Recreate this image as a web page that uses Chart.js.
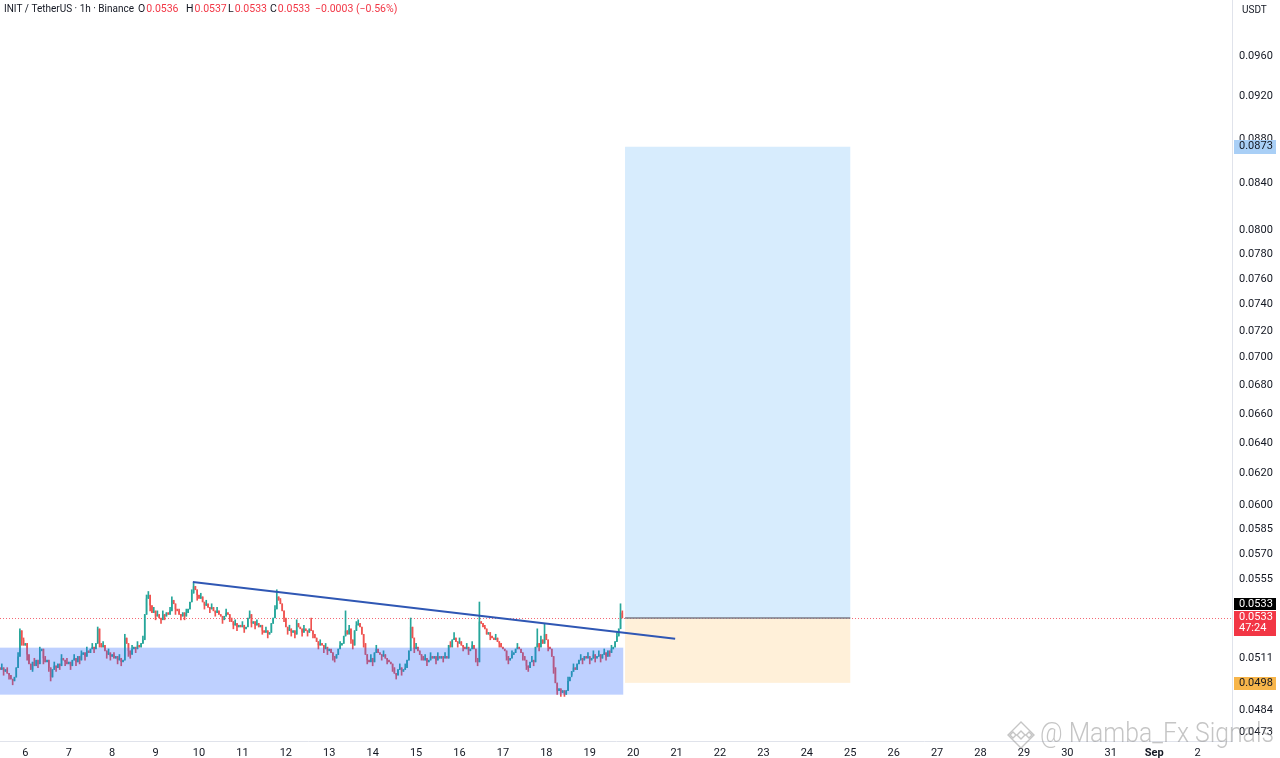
<!DOCTYPE html>
<html>
<head>
<meta charset="utf-8">
<script src="https://cdn.jsdelivr.net/npm/chart.js@4.4.1/dist/chart.umd.min.js"></script>
<style>
  html, body { margin: 0; padding: 0; background: #fff; }
  #wrap { width: 1280px; height: 758px; position: relative; }
</style>
</head>
<body>
<div id="wrap"><canvas id="chart"></canvas></div>
<script>
// INIT/USDT 1h candles, first candle = Aug 5 10:00
const hourCount = 682;
const firstOpen = 0.0506;
const closes = [
  0.0505, 0.0506, 0.0504, 0.0505, 0.0503, 0.0502, 0.0500, 0.0499, 0.0501, 0.0506,
  0.0512, 0.0526, 0.0521, 0.0518, 0.0519, 0.0513, 0.0508, 0.0505, 0.0509, 0.0507,
  0.0510, 0.0508, 0.0515, 0.0516, 0.0511, 0.0509, 0.0510, 0.0506, 0.0501, 0.0505,
  0.0507, 0.0506, 0.0508, 0.0507, 0.0511, 0.0510, 0.0509, 0.0508, 0.0509, 0.0507,
  0.0510, 0.0511, 0.0509, 0.0512, 0.0510, 0.0513, 0.0514, 0.0512, 0.0515, 0.0514,
  0.0516, 0.0517, 0.0516, 0.0519, 0.0527, 0.0519, 0.0517, 0.0518, 0.0515, 0.0513,
  0.0514, 0.0512, 0.0513, 0.0511, 0.0512, 0.0510, 0.0511, 0.0509, 0.0510, 0.0522,
  0.0519, 0.0515, 0.0513, 0.0516, 0.0517, 0.0516, 0.0518, 0.0517, 0.0519, 0.0521,
  0.0535, 0.0544, 0.0546, 0.0540, 0.0536, 0.0537, 0.0534, 0.0535, 0.0533, 0.0532,
  0.0535, 0.0534, 0.0536, 0.0535, 0.0537, 0.0543, 0.0541, 0.0538, 0.0537, 0.0535,
  0.0534, 0.0536, 0.0534, 0.0536, 0.0538, 0.0542, 0.0547, 0.0551, 0.0549, 0.0546,
  0.0544, 0.0545, 0.0542, 0.0540, 0.0541, 0.0539, 0.0538, 0.0539, 0.0537, 0.0536,
  0.0537, 0.0535, 0.0534, 0.0532, 0.0534, 0.0536, 0.0535, 0.0533, 0.0531, 0.0529,
  0.0530, 0.0528, 0.0529, 0.0528, 0.0529, 0.0527, 0.0528, 0.0533, 0.0535, 0.0530,
  0.0531, 0.0529, 0.0530, 0.0528, 0.0529, 0.0526, 0.0525, 0.0526, 0.0524, 0.0525,
  0.0530, 0.0533, 0.0538, 0.0545, 0.0543, 0.0541, 0.0537, 0.0533, 0.0528, 0.0526,
  0.0527, 0.0525, 0.0526, 0.0524, 0.0530, 0.0528, 0.0527, 0.0525, 0.0527, 0.0526,
  0.0525, 0.0527, 0.0526, 0.0524, 0.0522, 0.0520, 0.0518, 0.0519, 0.0518, 0.0516,
  0.0517, 0.0515, 0.0516, 0.0514, 0.0512, 0.0511, 0.0513, 0.0516, 0.0518, 0.0519,
  0.0523, 0.0526, 0.0524, 0.0527, 0.0521, 0.0518, 0.0526, 0.0529, 0.0530, 0.0528,
  0.0524, 0.0519, 0.0513, 0.0510, 0.0509, 0.0511, 0.0509, 0.0514, 0.0516, 0.0514,
  0.0513, 0.0512, 0.0513, 0.0511, 0.0510, 0.0509, 0.0508, 0.0506, 0.0503, 0.0502,
  0.0505, 0.0506, 0.0504, 0.0505, 0.0506, 0.0510, 0.0515, 0.0528, 0.0522, 0.0516,
  0.0517, 0.0515, 0.0513, 0.0512, 0.0510, 0.0511, 0.0509, 0.0510, 0.0512, 0.0511,
  0.0512, 0.0510, 0.0512, 0.0511, 0.0512, 0.0511, 0.0512, 0.0511, 0.0518, 0.0517,
  0.0521, 0.0522, 0.0520, 0.0519, 0.0520, 0.0518, 0.0517, 0.0516, 0.0517, 0.0515,
  0.0516, 0.0518, 0.0516, 0.0511, 0.0509, 0.0531, 0.0530, 0.0528, 0.0527, 0.0524,
  0.0525, 0.0523, 0.0522, 0.0521, 0.0522, 0.0520, 0.0519, 0.0517, 0.0516, 0.0515,
  0.0512, 0.0510, 0.0511, 0.0513, 0.0514, 0.0516, 0.0517, 0.0516, 0.0514, 0.0512,
  0.0510, 0.0507, 0.0506, 0.0509, 0.0510, 0.0509, 0.0517, 0.0519, 0.0517, 0.0521,
  0.0519, 0.0524, 0.0521, 0.0517, 0.0516, 0.0512, 0.0506, 0.0498, 0.0494, 0.0495,
  0.0493, 0.0494, 0.0492, 0.0494, 0.0499, 0.0501, 0.0504, 0.0506, 0.0505, 0.0508,
  0.0510, 0.0511, 0.0510, 0.0512, 0.0511, 0.0512, 0.0510, 0.0511, 0.0513, 0.0511,
  0.0512, 0.0513, 0.0511, 0.0513, 0.0514, 0.0512, 0.0515, 0.0514, 0.0516, 0.0517,
  0.0520, 0.0523, 0.0527, 0.0536, 0.0533
];
// wicks that stick out of the bodies (candle index -> price)
const highs = {
  1: 0.0508, 4: 0.0506, 10: 0.0514, 11: 0.0527, 13: 0.0522, 16: 0.0513, 19: 0.0511,
  22: 0.0517, 25: 0.0512, 30: 0.0509, 34: 0.0513, 37: 0.0511, 41: 0.0513, 45: 0.0515,
  48: 0.0517, 51: 0.0519, 54: 0.0528, 57: 0.0520, 60: 0.0516, 63: 0.0514, 66: 0.0513,
  69: 0.0524, 73: 0.0518, 76: 0.0520, 79: 0.0523, 81: 0.0546, 82: 0.0548, 85: 0.0539,
  87: 0.0537, 90: 0.0537, 94: 0.0539, 95: 0.0545, 99: 0.0538, 103: 0.0538, 106: 0.0549,
  107: 0.0553, 111: 0.0547, 114: 0.0543, 117: 0.0541, 120: 0.0539, 125: 0.0538,
  130: 0.0532, 134: 0.0531, 138: 0.0537, 142: 0.0532, 147: 0.0528, 152: 0.0540,
  153: 0.0549, 155: 0.0544, 160: 0.0529, 164: 0.0532, 168: 0.0529, 172: 0.0533,
  177: 0.0521, 180: 0.0519, 183: 0.0516, 188: 0.0520, 191: 0.0537, 193: 0.0529,
  197: 0.0531, 198: 0.0532, 205: 0.0513, 208: 0.0518, 212: 0.0515, 221: 0.0508,
  224: 0.0508, 227: 0.0533, 230: 0.0519, 235: 0.0513, 238: 0.0514, 242: 0.0514,
  246: 0.0514, 249: 0.0520, 251: 0.0525, 254: 0.0522, 258: 0.0519, 261: 0.0520,
  265: 0.0542, 268: 0.0529, 274: 0.0524, 283: 0.0515, 286: 0.0519, 294: 0.0512,
  297: 0.0527, 299: 0.0523, 301: 0.0530, 314: 0.0501, 317: 0.0508, 321: 0.0513,
  325: 0.0514, 328: 0.0515, 331: 0.0515, 334: 0.0516, 338: 0.0518, 341: 0.0525,
  343: 0.0541, 344: 0.0537
};
const lows = {
  2: 0.0502, 5: 0.0500, 7: 0.0497, 12: 0.0518, 15: 0.0510, 18: 0.0504, 21: 0.0506,
  24: 0.0508, 27: 0.0504, 28: 0.0499, 31: 0.0504, 33: 0.0505, 36: 0.0507, 39: 0.0505,
  42: 0.0507, 44: 0.0508, 47: 0.0510, 52: 0.0514, 55: 0.0517, 59: 0.0511, 61: 0.0510,
  65: 0.0508, 67: 0.0507, 71: 0.0512, 72: 0.0511, 75: 0.0514, 83: 0.0537, 86: 0.0532,
  89: 0.0530, 91: 0.0532, 97: 0.0535, 100: 0.0532, 102: 0.0532, 109: 0.0543,
  113: 0.0538, 116: 0.0536, 119: 0.0534, 123: 0.0530, 127: 0.0531, 129: 0.0527,
  131: 0.0526, 135: 0.0525, 139: 0.0528, 141: 0.0527, 145: 0.0524, 148: 0.0522,
  157: 0.0531, 159: 0.0524, 161: 0.0523, 163: 0.0522, 167: 0.0523, 170: 0.0523,
  173: 0.0522, 176: 0.0516, 179: 0.0514, 181: 0.0513, 184: 0.0510, 185: 0.0509,
  194: 0.0519, 195: 0.0516, 201: 0.0517, 203: 0.0508, 206: 0.0507, 211: 0.0510,
  214: 0.0508, 217: 0.0504, 219: 0.0500, 222: 0.0502, 229: 0.0514, 233: 0.0510,
  236: 0.0507, 241: 0.0508, 245: 0.0509, 253: 0.0517, 256: 0.0515, 259: 0.0513,
  263: 0.0509, 264: 0.0507, 271: 0.0521, 276: 0.0517, 280: 0.0510, 281: 0.0508,
  289: 0.0510, 291: 0.0505, 292: 0.0504, 295: 0.0507, 298: 0.0515, 303: 0.0515,
  306: 0.0503, 308: 0.0492, 310: 0.0491, 312: 0.0491, 316: 0.0502, 322: 0.0508,
  326: 0.0508, 329: 0.0509, 332: 0.0509, 335: 0.0510, 337: 0.0512
};

const yTicks = [0.0960, 0.0920, 0.0880, 0.0840, 0.0800, 0.0780, 0.0760, 0.0740, 0.0720,
  0.0700, 0.0680, 0.0660, 0.0640, 0.0620, 0.0600, 0.0585, 0.0570, 0.0555, 0.0511, 0.0484, 0.0473];
const dayLabels = ['6', '7', '8', '9', '10', '11', '12', '13', '14', '15', '16', '17', '18', '19',
  '20', '21', '22', '23', '24', '25', '26', '27', '28', '29', '30', '31', 'Sep', '2'];
const firstMidnight = 14;

// drawings, in candle index / price units
const demandZone = { from: -2, to: 344.5, low: 0.04919, high: 0.05167 };
const longTool = { from: 345.5, to: 470, entry: 0.0533, target: 0.0873, stop: 0.0498 };
const trendLine = { x0: 106.6, p0: 0.05535, x1: 373.2, p1: 0.05215 };
const lastPrice = 0.0533;

const hours = Array.from({ length: hourCount }, (_, i) => i);
const opens = closes.map((c, i) => i === 0 ? firstOpen : closes[i - 1]);
const bodies = closes.map((c, i) => [opens[i], c]);
const wicks = closes.map((c, i) => [
  lows[i] !== undefined ? lows[i] : Math.min(opens[i], c),
  highs[i] !== undefined ? highs[i] : Math.max(opens[i], c)
]);
const UP = '#26a69a', DOWN = '#ef5350';
const candleColors = closes.map((c, i) => c >= opens[i] ? UP : DOWN);

function fillBox(chart, x0, x1, p0, p1, color) {
  const { ctx, scales: { x, y } } = chart;
  const l = x.getPixelForValue(x0), r = x.getPixelForValue(x1);
  const t = y.getPixelForValue(p1), b = y.getPixelForValue(p0);
  ctx.fillStyle = color;
  ctx.fillRect(l, t, r - l, b - t);
}

function tag(ctx, top, h, bg, fg, lines) {
  ctx.fillStyle = bg;
  ctx.fillRect(1234, top, 42, h);
  ctx.fillStyle = fg;
  ctx.font = '11px Roboto';
  ctx.textAlign = 'left';
  ctx.textBaseline = 'middle';
  lines.forEach((t, k) => ctx.fillText(t, 1239, top + 6.5 + k * 11));
}

function noPadding(s) {
  s.paddingTop = 0; s.paddingBottom = 0; s.paddingLeft = 0; s.paddingRight = 0;
}

const overlays = {
  id: 'overlays',
  beforeDatasetsDraw(chart) {
    const { ctx, chartArea: a, scales: { x, y } } = chart;
    ctx.save();
    fillBox(chart, longTool.from, longTool.to, longTool.entry, longTool.target, 'rgba(33,150,243,0.18)');
    fillBox(chart, longTool.from, longTool.to, longTool.stop, longTool.entry, 'rgba(255,152,0,0.15)');
    const py = Math.round(y.getPixelForValue(lastPrice)) + 0.5;
    ctx.strokeStyle = 'rgba(242,54,69,0.75)';
    ctx.lineWidth = 1;
    ctx.setLineDash([1, 2]);
    ctx.beginPath();
    ctx.moveTo(a.left, py);
    ctx.lineTo(a.right, py);
    ctx.stroke();
    ctx.restore();
  },
  afterDatasetsDraw(chart) {
    const { ctx, scales: { x, y } } = chart;
    ctx.save();
    fillBox(chart, demandZone.from, demandZone.to, demandZone.low, demandZone.high, 'rgba(41,98,255,0.3)');
    // entry line of the long position
    const ey = y.getPixelForValue(longTool.entry);
    ctx.strokeStyle = '#787b86';
    ctx.lineWidth = 1.5;
    ctx.beginPath();
    ctx.moveTo(x.getPixelForValue(longTool.from), ey);
    ctx.lineTo(x.getPixelForValue(longTool.to), ey);
    ctx.stroke();
    // trend line
    ctx.strokeStyle = '#2f57b4';
    ctx.lineWidth = 2;
    ctx.beginPath();
    ctx.moveTo(x.getPixelForValue(trendLine.x0), y.getPixelForValue(trendLine.p0));
    ctx.lineTo(x.getPixelForValue(trendLine.x1), y.getPixelForValue(trendLine.p1));
    ctx.stroke();
    ctx.restore();
  },
  afterDraw(chart) {
    const { ctx, scales: { y } } = chart;
    ctx.save();
    // header
    ctx.font = '10.5px Roboto';
    ctx.textBaseline = 'middle';
    ctx.textAlign = 'left';
    ctx.fillStyle = '#131722';
    ctx.fillText('INIT / TetherUS · 1h · Binance', 4, 9, 130);
    const ohlc = [['O', '0.0536', 138], ['H', '0.0537', 186], ['L', '0.0533', 228], ['C', '0.0533', 270]];
    ohlc.forEach(([k, v, px]) => {
      ctx.fillStyle = '#131722';
      ctx.fillText(k, px, 9);
      ctx.fillStyle = '#f23645';
      ctx.fillText(v, px + ctx.measureText(k).width + 1, 9);
    });
    ctx.fillStyle = '#f23645';
    ctx.fillText('\u22120.0003 (\u22120.56%)', 315, 9);

    ctx.fillStyle = '#131722';
    ctx.font = '10px Roboto';
    ctx.fillText('USDT', 1242, 10);

    // price tags on the axis
    tag(ctx, Math.round(y.getPixelForValue(longTool.target)) - 7, 14, '#a9cff6', '#131722', ['0.0873']);
    tag(ctx, 598, 12, '#000000', '#ffffff', ['0.0533']);
    tag(ctx, 611, 25, '#f23645', '#ffffff', ['0.0533', '47:24']);
    tag(ctx, Math.round(y.getPixelForValue(longTool.stop)) - 6, 13, '#f7b54a', '#131722', ['0.0498']);

    // watermark
    ctx.strokeStyle = 'rgba(150,150,150,0.55)';
    ctx.lineWidth = 1.4;
    const cx = 1021, cy = 735;
    const dia = (r, ox, oy) => {
      ctx.beginPath();
      ctx.moveTo(cx + ox, cy + oy - r); ctx.lineTo(cx + ox + r, cy + oy);
      ctx.lineTo(cx + ox, cy + oy + r); ctx.lineTo(cx + ox - r, cy + oy);
      ctx.closePath(); ctx.stroke();
    };
    dia(13, 0, 0); dia(4, 0, 0); dia(3, -8, 0); dia(3, 8, 0);
    ctx.fillStyle = 'rgba(140,140,140,0.5)';
    ctx.font = '300 28px Roboto';
    ctx.textBaseline = 'middle';
    ctx.fillText('@ Mamba_Fx Signals', 1040, 735, 234);
    ctx.restore();
  }
};

new Chart(document.getElementById('chart'), {
  type: 'bar',
  data: {
    labels: hours,
    datasets: [
      {
        label: 'body',
        data: bodies,
        backgroundColor: candleColors,
        grouped: false,
        order: 0,
        minBarLength: 1,
        categoryPercentage: 1,
        barPercentage: 0.8
      },
      {
        label: 'wick',
        data: wicks,
        backgroundColor: candleColors,
        grouped: false,
        order: 1,
        barThickness: 1
      }
    ]
  },
  options: {
    responsive: true,
    maintainAspectRatio: false,
    animation: false,
    layout: { padding: 0 },
    plugins: { legend: { display: false }, tooltip: { enabled: false } },
    scales: {
      x: {
        type: 'category',
        offset: false,
        grid: { display: false, drawTicks: false },
        border: { display: true, color: '#e0e3eb' },
        afterFit: s => { s.height = 17; noPadding(s); },
        ticks: {
          autoSkip: false,
          maxRotation: 0,
          minRotation: 0,
          padding: 6,
          color: '#131722',
          font: c => ({ family: 'Roboto', size: 11, weight: c.tick && c.tick.label === 'Sep' ? 'bold' : 'normal' }),
          callback: (v, i) => {
            const k = i - firstMidnight;
            return k >= 0 && k % 24 === 0 ? dayLabels[k / 24] : '';
          }
        }
      },
      y: {
        type: 'logarithmic',
        position: 'right',
        min: 0.04686,
        max: 0.1018,
        grid: { display: false, drawTicks: false },
        border: { display: true, color: '#e0e3eb' },
        afterFit: s => { s.width = 48; noPadding(s); },
        afterBuildTicks: s => { s.ticks = yTicks.map(v => ({ value: v })); },
        ticks: {
          padding: 7,
          color: '#131722',
          font: { family: 'Roboto', size: 11 },
          callback: v => Number(v).toFixed(4)
        }
      }
    }
  },
  plugins: [overlays]
});
</script>
</body>
</html>
